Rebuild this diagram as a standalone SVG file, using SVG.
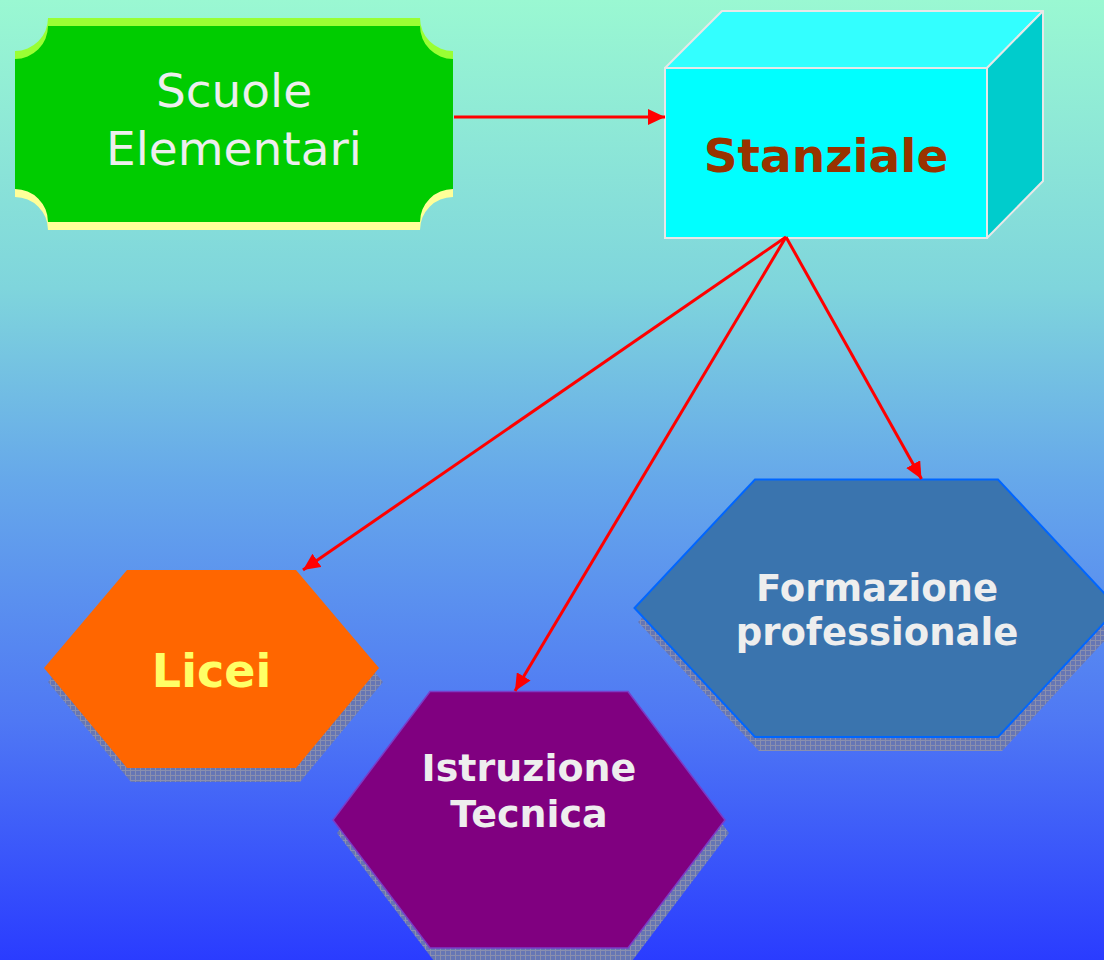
<svg xmlns="http://www.w3.org/2000/svg" width="1104" height="960" viewBox="0 0 1104 960">
<defs>
<linearGradient id="bg" x1="0" y1="0" x2="0" y2="1">
<stop offset="0" stop-color="#9af8d2"/>
<stop offset="0.3" stop-color="#7fd5dc"/>
<stop offset="0.5" stop-color="#66a8ea"/>
<stop offset="0.75" stop-color="#4f78f4"/>
<stop offset="1" stop-color="#2a3cff"/>
</linearGradient>
<pattern id="hatch" width="5" height="5" patternUnits="userSpaceOnUse">
<rect width="5" height="5" fill="#6676b4"/>
<path d="M0 0.5H5M0.5 0V5" stroke="#8a8fae" stroke-width="1"/>
</pattern>
<marker id="arr" markerUnits="userSpaceOnUse" markerWidth="18" markerHeight="16" refX="17" refY="8" orient="auto">
<path d="M0 0L17 8L0 16Z" fill="#ff0000"/>
</marker>
<path id="plaque" d="M48 0H420A33 33 0 0 0 453 33V163A33 33 0 0 0 420 196H48A33 33 0 0 0 15 163V33A33 33 0 0 0 48 0Z"/>
</defs>
<style>
.lbl{font-family:"DejaVu Sans","Liberation Sans",sans-serif;text-anchor:middle}
.b{font-weight:bold}
.conn{stroke:#ff0000;stroke-width:3;fill:none;marker-end:url(#arr)}
.shadow{fill:url(#hatch)}
</style>
<rect width="1104" height="960" fill="url(#bg)"/>

<g id="scuole">
<use href="#plaque" transform="translate(0,34)" fill="#ffff99"/>
<use href="#plaque" transform="translate(0,18)" fill="#99ff33"/>
<use href="#plaque" transform="translate(0,26)" fill="#00cc00"/>
<text class="lbl" x="234" y="107" font-size="47" fill="#eeeeee">Scuole</text>
<text class="lbl" x="234" y="165" font-size="47" fill="#eeeeee">Elementari</text>
</g>

<g id="stanziale">
<path d="M665 68L722 11H1043L987 68Z" fill="#33ffff" stroke="#e8e8e8" stroke-width="2" stroke-linejoin="round"/>
<path d="M987 68L1043 11V181L987 238Z" fill="#00cccc" stroke="#e8e8e8" stroke-width="2" stroke-linejoin="round"/>
<rect x="665" y="68" width="322" height="170" fill="#00ffff" stroke="#e8e8e8" stroke-width="2"/>
<text class="lbl b" x="826" y="172" font-size="47" fill="#993300">Stanziale</text>
</g>

<g id="licei">
<path class="shadow" d="M131 584H300L383 682L300 782H131L48 682Z"/>
<path d="M127 570H296L379 668L296 768H127L44 668Z" fill="#ff6600"/>
<text class="lbl b" x="211.5" y="687" font-size="46" fill="#ffff66">Licei</text>
</g>

<g id="istruzione">
<path class="shadow" d="M434 705H632L729 833L632 961H434L337 833Z"/>
<path d="M430 691.5H628L725 820L628 948H430L333 820Z" fill="#800080" stroke="#7a3cc8" stroke-width="1.5"/>
<text class="lbl b" x="529" y="781" font-size="38" fill="#eeeeee">Istruzione</text>
<text class="lbl b" x="529" y="827" font-size="38" fill="#eeeeee">Tecnica</text>
</g>

<g id="formazione">
<path class="shadow" d="M759 493H1002L1122 622L1002 751H759L638 622Z"/>
<path d="M755 479.5H998L1118 608L998 737H755L634.5 608Z" fill="#3a74ae" stroke="#0066ff" stroke-width="2"/>
<text class="lbl b" x="877" y="601" font-size="37" fill="#eeeeee">Formazione</text>
<text class="lbl b" x="877" y="645" font-size="37" fill="#eeeeee">professionale</text>
</g>

<g id="connectors">
<path class="conn" d="M454 117H665"/>
<path class="conn" d="M786 237L303 570"/>
<path class="conn" d="M786 237L515 691"/>
<path class="conn" d="M786 237L921.5 479"/>
</g>
</svg>
